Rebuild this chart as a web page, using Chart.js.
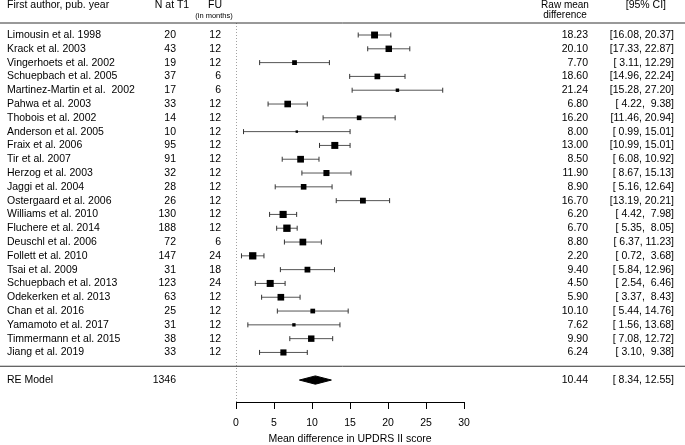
<!DOCTYPE html>
<html>
<head>
<meta charset="utf-8">
<script src="https://cdn.jsdelivr.net/npm/chart.js@4"></script>
<style>
  html, body { margin: 0; padding: 0; background: #fff; }
  canvas { display: block; }
</style>
</head>
<body>
<canvas id="forest" width="685" height="445"></canvas>
<script>
// study rows, top to bottom
var studies = ['Limousin et al. 1998', 'Krack et al. 2003', 'Vingerhoets et al. 2002',
    'Schuepbach et al. 2005', 'Martinez-Martin et al.  2002', 'Pahwa et al. 2003',
    'Thobois et al. 2002', 'Anderson et al. 2005', 'Fraix et al. 2006', 'Tir et al. 2007',
    'Herzog et al. 2003', 'Jaggi et al. 2004', 'Ostergaard et al. 2006', 'Williams et al. 2010',
    'Fluchere et al. 2014', 'Deuschl et al. 2006', 'Follett et al. 2010', 'Tsai et al. 2009',
    'Schuepbach et al. 2013', 'Odekerken et al. 2013', 'Chan et al. 2016',
    'Yamamoto et al. 2017', 'Timmermann et al. 2015', 'Jiang et al. 2019'];
var nAtT1 = [20, 43, 19, 37, 17, 33, 14, 10, 95, 91, 32, 28, 26, 130, 188, 72, 147, 31, 123, 63, 25, 31, 38, 33];
var followUp = [12, 12, 12, 6, 6, 12, 12, 12, 12, 12, 12, 12, 12, 12, 12, 6, 24, 18, 24, 12, 12, 12, 12, 12];
var meanDiff = [18.23, 20.10, 7.70, 18.60, 21.24, 6.80, 16.20, 8.00, 13.00, 8.50, 11.90, 8.90,
    16.70, 6.20, 6.70, 8.80, 2.20, 9.40, 4.50, 5.90, 10.10, 7.62, 9.90, 6.24];
var ciLow = [16.08, 17.33, 3.11, 14.96, 15.28, 4.22, 11.46, 0.99, 10.99, 6.08, 8.67, 5.16,
    13.19, 4.42, 5.35, 6.37, 0.72, 5.84, 2.54, 3.37, 5.44, 1.56, 7.08, 3.10];
var ciHigh = [20.37, 22.87, 12.29, 22.24, 27.20, 9.38, 20.94, 15.01, 15.01, 10.92, 15.13, 12.64,
    20.21, 7.98, 8.05, 11.23, 3.68, 12.96, 6.46, 8.43, 14.76, 13.68, 12.72, 9.38];

// pooled random-effects estimate
var reLabel = 'RE Model';
var reN = 1346;
var reEst = 10.44;
var reLow = 8.34;
var reHigh = 12.55;

var xTicks = [0, 5, 10, 15, 20, 25, 30];
var xTitle = 'Mean difference in UPDRS II score';

var FONT = '"Liberation Sans", Arial, Helvetica, sans-serif';
var RE_ROW = 25, SEP_ROW = 24;
var Y_MIN = -0.87, Y_MAX = 26.59;

// square size follows the random-effects weight (tau^2 guessed at 20)
var TAU2 = 20;
var weights = ciLow.map(function (lo, i) {
    var se = (ciHigh[i] - lo) / 3.92;
    return 1 / (se * se + TAU2);
});
var wMin = Math.min.apply(null, weights), wMax = Math.max.apply(null, weights);
function squareRadius(i) {
    var side = 2.45 + (weights[i] - wMin) / (wMax - wMin) * 4.9;
    return side / Math.SQRT2;
}

var ciSegments = [], caps = [], squares = [];
studies.forEach(function (s, i) {
    ciSegments.push({x: ciLow[i], y: i}, {x: ciHigh[i], y: i}, {x: ciHigh[i], y: null});
    caps.push({x: ciLow[i], y: i}, {x: ciHigh[i], y: i});
    squares.push({x: meanDiff[i], y: i});
});

function fmt(v) { return v.toFixed(2); }
function ciText(lo, hi) { return '[' + fmt(lo).padStart(5) + ', ' + fmt(hi).padStart(5) + ']'; }

var tablePlugin = {
    id: 'table',
    afterDraw: function (chart) {
        var ctx = chart.ctx, y = chart.scales.y, area = chart.chartArea;
        function txt(s, x, yy, align, size) {
            ctx.font = size + 'px ' + FONT;
            ctx.textAlign = align;
            ctx.fillText(s, x, yy);
        }
        ctx.save();
        ctx.fillStyle = '#000';
        ctx.textBaseline = 'middle';

        txt('First author, pub. year', 7, 5.5, 'left', 10.5);
        txt('N at T1', 172, 5.5, 'center', 10.5);
        txt('FU', 215, 5.5, 'center', 10.5);
        txt('(in months)', 214, 16, 'center', 7.5);
        txt('Raw mean', 565, 5, 'center', 10);
        txt('difference', 565, 15, 'center', 10);
        txt('[95% CI]', 666, 5.5, 'right', 10.5);

        studies.forEach(function (s, i) {
            var py = y.getPixelForValue(i);
            txt(s, 7, py, 'left', 10.5);
            txt(String(nAtT1[i]), 176, py, 'right', 10.5);
            txt(String(followUp[i]), 221, py, 'right', 10.5);
            txt(fmt(meanDiff[i]), 588, py, 'right', 10.5);
            txt(ciText(ciLow[i], ciHigh[i]), 674, py, 'right', 10.5);
        });
        var ry = y.getPixelForValue(RE_ROW);
        txt(reLabel, 7, ry, 'left', 10.5);
        txt(String(reN), 176, ry, 'right', 10.5);
        txt(fmt(reEst), 588, ry, 'right', 10.5);
        txt(ciText(reLow, reHigh), 674, ry, 'right', 10.5);

        ctx.strokeStyle = '#333';
        ctx.lineWidth = 1;
        ctx.beginPath();
        ctx.moveTo(0, area.top);
        ctx.lineTo(chart.width, area.top);
        var sy = y.getPixelForValue(SEP_ROW);
        ctx.moveTo(0, sy);
        ctx.lineTo(chart.width, sy);
        ctx.stroke();
        ctx.restore();
    }
};

new Chart(document.getElementById('forest').getContext('2d'), {
    type: 'scatter',
    data: {
        datasets: [
            {
                // study estimates
                data: squares,
                pointStyle: 'rect',
                pointRadius: function (c) { return squareRadius(c.dataIndex); },
                pointBackgroundColor: '#000',
                pointBorderWidth: 0
            },
            {
                // whisker end caps
                data: caps,
                pointStyle: 'line',
                pointRotation: 90,
                pointRadius: 2.5,
                pointBorderColor: '#333',
                pointBorderWidth: 1
            },
            {
                type: 'line',
                data: ciSegments,
                borderColor: '#555',
                borderWidth: 1,
                pointRadius: 0,
                spanGaps: false
            },
            {
                // diamond, upper half
                type: 'line',
                data: [{x: reLow, y: RE_ROW}, {x: reEst, y: RE_ROW - 0.3}, {x: reHigh, y: RE_ROW}],
                borderColor: '#000',
                backgroundColor: '#000',
                borderWidth: 1,
                pointRadius: 0,
                fill: '+1'
            },
            {
                // diamond, lower half
                type: 'line',
                data: [{x: reLow, y: RE_ROW}, {x: reEst, y: RE_ROW + 0.3}, {x: reHigh, y: RE_ROW}],
                borderColor: '#000',
                backgroundColor: '#000',
                borderWidth: 1,
                pointRadius: 0,
                fill: false
            },
            {
                // reference line at zero
                type: 'line',
                data: [{x: 0, y: Y_MIN}, {x: 0, y: Y_MAX}],
                borderColor: '#444',
                borderWidth: 1,
                borderDash: [1, 2],
                pointRadius: 0
            }
        ]
    },
    options: {
        responsive: false,
        animation: false,
        events: [],
        layout: {padding: {left: 236, right: 221, top: 23, bottom: 0}},
        plugins: {legend: {display: false}, tooltip: {enabled: false}},
        scales: {
            x: {
                type: 'linear',
                min: 0,
                max: 30,
                afterBuildTicks: function (s) { s.ticks = xTicks.map(function (v) { return {value: v}; }); },
                afterFit: function (s) { s.height = 43; },
                grid: {display: true, drawOnChartArea: false, drawTicks: true, tickLength: 7,
                    color: 'transparent', tickColor: '#000'},
                border: {display: true, color: '#000', width: 1},
                ticks: {color: '#000', padding: 8, maxRotation: 0, autoSkip: false,
                    font: {family: FONT, size: 10.5}},
                title: {display: true, text: xTitle, color: '#000', padding: 0,
                    font: {family: FONT, size: 10.5}}
            },
            y: {
                type: 'linear',
                reverse: true,
                min: Y_MIN,
                max: Y_MAX,
                display: false
            }
        }
    },
    plugins: [tablePlugin]
});
</script>
</body>
</html>
